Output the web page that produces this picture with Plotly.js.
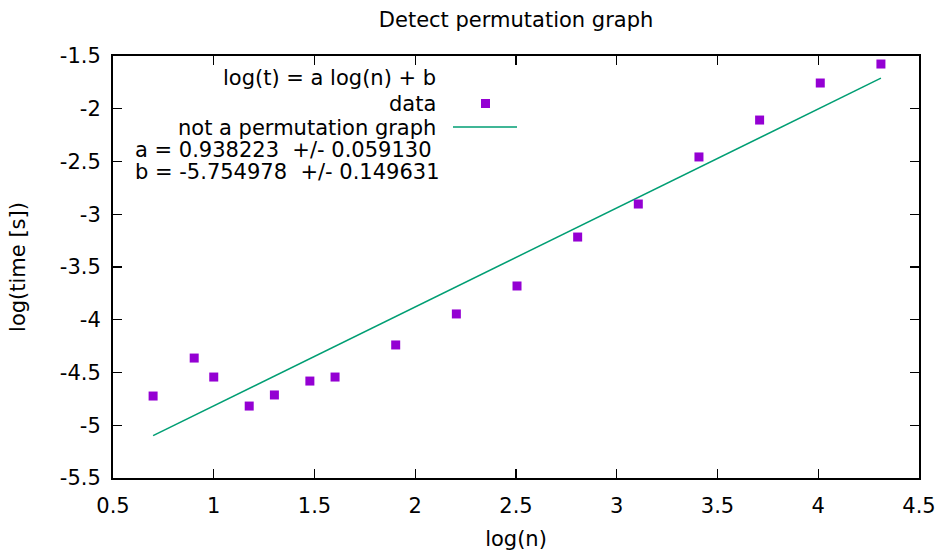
<!DOCTYPE html>
<html>
<head>
<meta charset="utf-8">
<script src="https://cdn.plot.ly/plotly-3.0.1.min.js"></script>
<style>html,body{margin:0;padding:0;background:#fff;}#chart{width:940px;height:551px;}</style>
</head>
<body>
<div id="chart"></div>
<script>
// Measured data: log(n) vs log(time [s])
const logN = [0.699, 0.903, 1.000, 1.176, 1.301, 1.477, 1.602, 1.903, 2.204, 2.505, 2.806, 3.107, 3.408, 3.709, 4.010, 4.311];
const logT = [-4.723, -4.363, -4.543, -4.818, -4.713, -4.581, -4.543, -4.239, -3.945, -3.680, -3.216, -2.903, -2.457, -2.107, -1.756, -1.576];
// Fitted line endpoints
const fitX = [0.699, 4.311];
const fitY = [-5.099, -1.710];
const xTicks = [0.5, 1, 1.5, 2, 2.5, 3, 3.5, 4, 4.5];
const yTicks = [-5.5, -5, -4.5, -4, -3.5, -3, -2.5, -2, -1.5];
const legendTitle = 'log(t) = a log(n) + b';
const legendData = 'data';
const legendFit = 'not a permutation graph';
const labelA = 'a = 0.938223  +/- 0.059130';
const labelB = 'b = -5.754978  +/- 0.149631';

const W = 940, H = 551, L = 113, R = 21, T = 56, B = 73;
const pw = W - L - R, ph = H - T - B;
const px = x => (x - L) / pw;
const py = y => (H - B - y) / ph;

const font = {family: 'DejaVu Sans, sans-serif', size: 21, color: '#000'};
const tickFont = {family: 'DejaVu Sans, sans-serif', size: 21, color: '#000'};
const titleFont = {family: 'DejaVu Sans, sans-serif', size: 21, color: '#000'};
const violet = '#9400D3', green = '#009E73';

const traces = [
  {x: fitX, y: fitY, mode: 'lines', line: {color: green, width: 1.5}, showlegend: false, hoverinfo: 'skip'},
  {x: logN, y: logT, mode: 'markers', marker: {symbol: 'square', size: 9, color: violet}, showlegend: false}
];

const axisCommon = {
  showline: true, linecolor: '#000', linewidth: 2, mirror: 'allticks',
  ticks: 'inside', ticklen: 9, tickwidth: 1.2, tickcolor: '#000',
  showgrid: false, zeroline: false, tickfont: tickFont, fixedrange: true
};

const layout = {
  width: W, height: H,
  margin: {l: L, r: R, t: T, b: B},
  paper_bgcolor: '#fff', plot_bgcolor: '#fff',
  font: font,
  title: {text: 'Detect permutation graph', font: titleFont, x: 0.549, xanchor: 'center', y: 1 - 20/H, yanchor: 'middle'},
  xaxis: Object.assign({}, axisCommon, {
    range: [0.5, 4.5], tickvals: xTicks, ticktext: xTicks.map(String),
    ticklabelstandoff: 8,
    title: {text: 'log(n)', font: font, standoff: 16}
  }),
  yaxis: Object.assign({}, axisCommon, {
    range: [-5.5, -1.5], tickvals: yTicks, ticktext: yTicks.map(String),
    ticklabelstandoff: 6,
    title: {text: 'log(time [s])', font: font, standoff: 28}
  }),
  showlegend: false,
  annotations: [
    {text: legendTitle, xref: 'paper', yref: 'paper', x: px(438), y: py(78), xanchor: 'right', yanchor: 'middle', showarrow: false, font: font},
    {text: legendData, xref: 'paper', yref: 'paper', x: px(438), y: py(104), xanchor: 'right', yanchor: 'middle', showarrow: false, font: font},
    {text: legendFit, xref: 'paper', yref: 'paper', x: px(438), y: py(128), xanchor: 'right', yanchor: 'middle', showarrow: false, font: font},
    {text: labelA.replace(/  /g, ' &nbsp;'), xref: 'paper', yref: 'paper', x: px(133), y: py(150), xanchor: 'left', yanchor: 'middle', showarrow: false, font: font},
    {text: labelB.replace(/  /g, ' &nbsp;'), xref: 'paper', yref: 'paper', x: px(133), y: py(172), xanchor: 'left', yanchor: 'middle', showarrow: false, font: font}
  ],
  shapes: [
    {type: 'rect', xref: 'paper', yref: 'paper', x0: px(481), x1: px(490), y0: py(99), y1: py(108), fillcolor: violet, line: {width: 0}},
    {type: 'line', xref: 'paper', yref: 'paper', x0: px(453), x1: px(517), y0: py(127), y1: py(127), line: {color: green, width: 1.5}}
  ]
};

Plotly.newPlot('chart', traces, layout, {staticPlot: true, displayModeBar: false});
</script>
</body>
</html>
